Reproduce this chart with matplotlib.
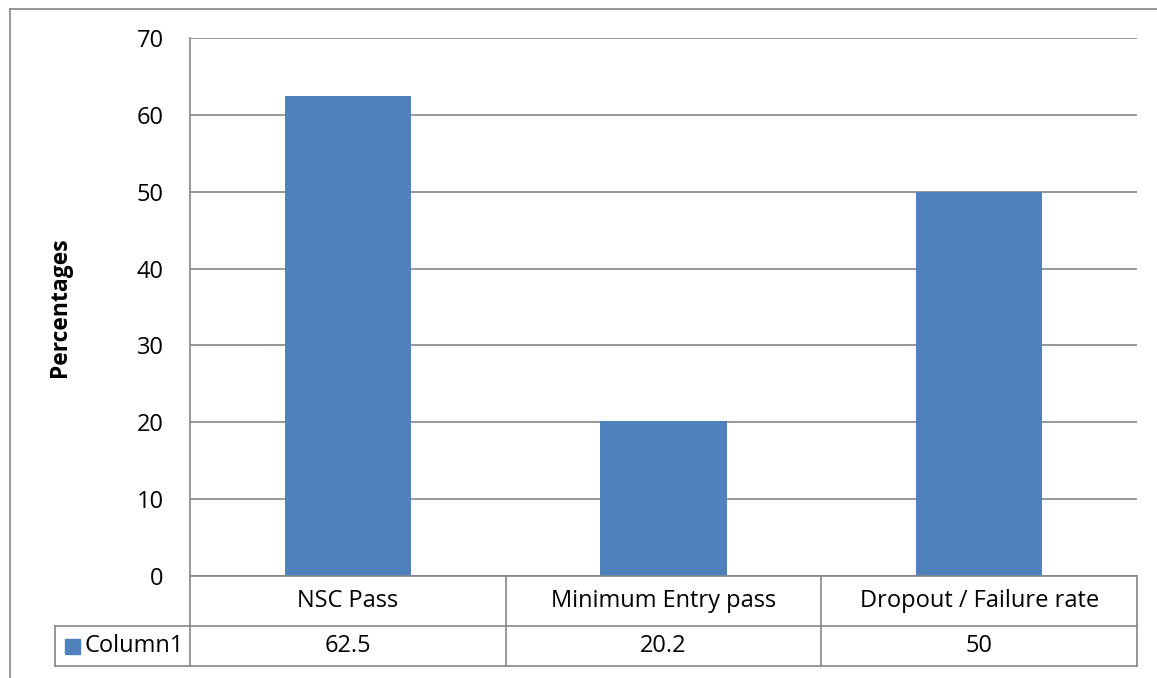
import matplotlib.pyplot as plt
from matplotlib.lines import Line2D
from matplotlib.patches import Rectangle

categories = ['NSC Pass', 'Minimum Entry pass', 'Dropout / Failure rate']
values = [62.5, 20.2, 50]
value_labels = ['62.5', '20.2', '50']
series_name = 'Column1'
yticks = [0, 10, 20, 30, 40, 50, 60, 70]

W, H = 1157, 678
bar_color = '#4F81BD'
grid_color = '#868686'
plt.rcParams['font.family'] = ['Open Sans', 'DejaVu Sans']

fig = plt.figure(figsize=(W / 100, H / 100), dpi=100)


def fx(px):
    return px / W


def fy(py):
    return 1 - py / H


# plot area in pixels
left, right, top, bottom = 190, 1137, 38, 576
ax = fig.add_axes([fx(left), fy(bottom), fx(right - left), (bottom - top) / H])

x = range(len(categories))
ax.bar(x, values, width=0.4, color=bar_color, zorder=3)
ax.set_xlim(-0.5, len(categories) - 0.5)
ax.set_ylim(0, 70)
ax.set_yticks(yticks)
ax.set_xticks([])
ax.tick_params(axis='y', length=0, pad=19, labelsize=17)
ax.yaxis.grid(True, color=grid_color, linewidth=1.2, zorder=0)
for s in ['top', 'right', 'bottom']:
    ax.spines[s].set_visible(False)
ax.spines['left'].set_color(grid_color)
ax.spines['left'].set_linewidth(1.2)
ax.set_ylabel('Percentages', fontsize=16.5, fontweight='bold')
ax.yaxis.set_label_coords((72 - left) / (right - left), 0.5)

# data table below the plot
row1, row2, row3 = 576, 626, 666
legend_left = 55
col_edges = [left + (right - left) * i / len(categories) for i in range(len(categories) + 1)]


def hline(x0, x1, y):
    fig.add_artist(Line2D([fx(x0), fx(x1)], [fy(y), fy(y)], color=grid_color, lw=1.2))


def vline(xp, y0, y1):
    fig.add_artist(Line2D([fx(xp), fx(xp)], [fy(y0), fy(y1)], color=grid_color, lw=1.2))


hline(left, right, row1)
hline(legend_left, right, row2)
hline(legend_left, right, row3)
for xe in col_edges:
    vline(xe, row1, row3)
vline(legend_left, row2, row3)

for i, (cat, lab) in enumerate(zip(categories, value_labels)):
    cx = (col_edges[i] + col_edges[i + 1]) / 2
    fig.text(fx(cx), fy((row1 + row2) / 2), cat, ha='center', va='center', fontsize=17)
    fig.text(fx(cx), fy((row2 + row3) / 2), lab, ha='center', va='center', fontsize=17)

fig.add_artist(Rectangle((fx(65), fy(654)), fx(15), 15 / H, color=bar_color))
fig.text(fx(85), fy((row2 + row3) / 2), series_name, ha='left', va='center', fontsize=17)

# outer chart frame
hline(10, W, 9)
vline(10, 9, H)

fig.savefig('out.png', dpi=100)
